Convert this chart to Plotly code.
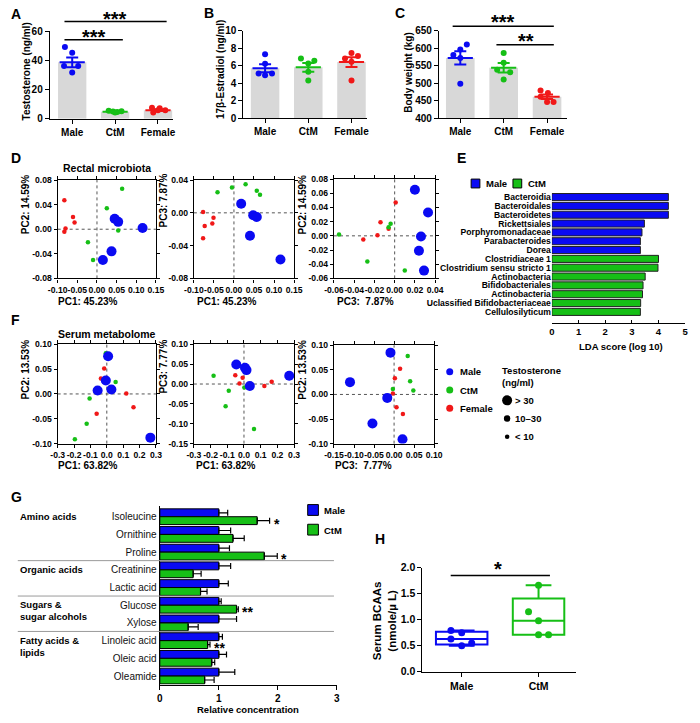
import plotly.graph_objects as go

W, H = 700, 723
FONT = "Arial, Liberation Sans, sans-serif"
BLUE = "#0A0AF2"
GREEN = "#16BF16"
RED = "#F01818"
BAR_GRAY = "#D8D8D8"

GROUPS = ["Male", "CtM", "Female"]
GROUP_COLORS = [BLUE, GREEN, RED]

# ---- A: testosterone (ng/ml)
A_MEAN = [38.7, 4.8, 5.9]
A_SEM = [3.4, 0.3, 0.6]
A_MALE = [49.2, 45.2, 36.2, 36.2, 31.7]
A_CTM = [5.5, 5.0, 4.6, 5.2, 4.3]
A_FEMALE = [7.6, 7.2, 5.8, 5.8, 4.3]

# ---- B: 17b-estradiol (ng/ml)
B_MEAN = [5.7, 5.8, 6.4]
B_SEM = [0.45, 0.5, 0.55]
B_MALE = [7.3, 6.2, 5.1, 4.9, 5.1]
B_CTM = [6.8, 6.55, 6.25, 5.3, 4.3]
B_FEMALE = [7.45, 6.8, 7.1, 6.45, 4.3]

# ---- C: body weight (kg)
C_MEAN = [572, 544, 461]
C_SEM = [19, 13.5, 6.5]
C_MALE = [610, 596, 580, 572, 498]
C_CTM = [586, 558, 538, 531, 510]
C_FEMALE = [479, 472, 461, 446, 446]

# ---- D: rectal microbiota PCA
D_MALE_PC1 = [0.045, 0.054, 0.116, 0.037, 0.015]
D_MALE_PC2 = [0.017, 0.012, 0.002, -0.036, -0.050]
D_CTM_PC1 = [0.064, 0.025, 0.054, -0.023, -0.010]
D_CTM_PC2 = [0.066, 0.034, -0.002, -0.021, -0.050]
D_FEMALE_PC1 = [-0.083, -0.061, -0.057, -0.080, -0.083]
D_FEMALE_PC2 = [0.047, 0.020, 0.011, 0.001, -0.004]

D2_MALE_PC1 = [0.018, 0.048, 0.057, 0.040, 0.116]
D2_MALE_PC3 = [0.011, -0.003, -0.005, -0.028, -0.057]
D2_CTM_PC1 = [-0.041, -0.005, 0.029, 0.057, 0.065]
D2_CTM_PC3 = [0.025, 0.031, 0.035, 0.027, 0.022]
D2_FEMALE_PC1 = [-0.077, -0.073, -0.051, -0.054, -0.077]
D2_FEMALE_PC3 = [0.001, -0.016, -0.006, -0.013, -0.031]

D3_MALE_PC3 = [0.020, 0.033, 0.026, 0.024, 0.029]
D3_MALE_PC2 = [0.065, 0.033, -0.001, -0.021, -0.049]
D3_CTM_PC3 = [-0.055, -0.004, -0.006, -0.027, 0.010]
D3_CTM_PC2 = [0.002, 0.017, 0.012, -0.036, -0.049]
D3_FEMALE_PC3 = [0.001, -0.014, -0.017, -0.006, -0.031]
D3_FEMALE_PC2 = [0.047, 0.019, 0.001, 0.010, -0.005]

# ---- E: LEfSe LDA scores
E_MALE_TAXA = ["Bacteroidia", "Bacteroidales", "Bacteroidetes", "Rickettsiales",
               "Porphyromonadaceae", "Parabacteroides", "Dorea"]
E_MALE_LDA = [4.37, 4.37, 4.37, 3.47, 3.38, 3.32, 3.32]
E_CTM_TAXA = ["Clostridiaceae 1", "Clostridium sensu stricto 1", "Actinobacteria",
              "Bifidobacteriales", "Actinobacteria", "Uclassified Bifidobacteriaceae",
              "Cellulosilyticum"]
E_CTM_LDA = [4.0, 3.98, 3.50, 3.42, 3.40, 3.33, 3.32]

# ---- F: serum metabolome PCA
F_MALE_PC1 = [0.008, -0.006, 0.028, -0.056, 0.266]
F_MALE_PC2 = [0.076, 0.027, 0.009, 0.007, -0.088]
F_CTM_PC1 = [-0.006, 0.054, -0.105, -0.123, -0.195]
F_CTM_PC2 = [0.082, 0.024, -0.009, -0.060, -0.091]
F_FEMALE_PC1 = [-0.016, -0.036, 0.119, 0.163, -0.062]
F_FEMALE_PC2 = [0.051, 0.031, 0.001, -0.027, -0.040]

F2_MALE_PC1 = [-0.046, 0.006, 0.015, 0.035, 0.271]
F2_MALE_PC3 = [0.049, 0.041, 0.035, -0.005, 0.021]
F2_CTM_PC1 = [-0.182, -0.091, -0.110, 0.002, 0.060]
F2_CTM_PC3 = [0.021, -0.017, -0.056, -0.009, -0.113]
F2_FEMALE_PC1 = [-0.052, -0.027, -0.008, 0.122, 0.166]
F2_FEMALE_PC3 = [0.022, 0.001, 0.016, -0.005, 0.006]

F3_MALE_PC3 = [-0.009, -0.110, -0.017, -0.054, 0.021]
F3_MALE_PC2 = [0.085, 0.025, -0.007, -0.059, -0.091]
F3_CTM_PC3 = [0.034, 0.040, 0.048, -0.003, -0.017]
F3_CTM_PC2 = [0.078, 0.027, 0.008, 0.011, -0.005]
F3_FEMALE_PC3 = [0.015, 0.002, -0.003, 0.006, 0.022]
F3_FEMALE_PC2 = [0.052, 0.033, 0.002, -0.026, -0.040]

TESTO_CLASSES = ["> 30", "10\u201330", "< 10"]

# ---- G: relative concentration of serum metabolites
G_CLASSES = ["Amino acids", "Organic acids", "Sugars &<br>sugar alcohols", "Fatty acids &<br>lipids"]
G_METAB = ["Isoleucine", "Ornithine", "Proline", "Creatinine", "Lactic acid",
           "Glucose", "Xylose", "Linoleic acid", "Oleic acid", "Oleamide"]
G_MALE = [1, 1, 1, 1, 1, 1, 1, 1, 1, 1]
G_MALE_ERR = [0.15, 0.20, 0.18, 0.20, 0.16, 0.04, 0.30, 0.06, 0.13, 0.27]
G_CTM = [1.65, 1.24, 1.77, 0.565, 0.69, 1.30, 0.48, 0.81, 0.88, 0.76]
G_CTM_ERR = [0.21, 0.19, 0.22, 0.135, 0.11, 0.03, 0.17, 0.04, 0.05, 0.16]
G_SIG = ["*", "", "*", "", "", "**", "", "**", "", ""]

# ---- H: serum BCAAs (nmole/uL)
H_MALE = [0.79, 0.75, 0.63, 0.50, 0.55]
H_CTM = [1.66, 1.15, 0.98, 0.71, 0.71]

# horizontal spread of the dots inside each column (category units)
JIT_A = [[-0.17, 0, -0.19, 0.14, 0], [-0.15, -0.05, 0.05, 0.15, 0], [-0.14, 0.04, 0.17, 0, -0.11]]
JIT_B = [[0, 0, -0.15, 0, 0.16], [-0.17, 0.14, 0, 0, 0], [0, -0.15, 0.15, 0, 0]]
JIT_C = [[0.15, 0, -0.16, 0, 0], [0, 0, -0.15, 0.15, 0], [-0.15, 0.02, -0.15, 0, 0.15]]
JIT_H = [[-0.14, 0, -0.14, 0, 0.13], [0, -0.13, 0, 0, 0.13]]
DOT_SIZE = {">": 10, "mid": 6.5, "<": 4.5}

fig = go.Figure()
shapes = []
annotations = []
lay = dict(width=W, height=H, autosize=False, margin=dict(l=0, r=0, t=0, b=0),
           paper_bgcolor="white", plot_bgcolor="white", showlegend=False,
           font=dict(family=FONT, color="black"), barmode="group", bargap=0.11, bargroupgap=0)


def ref(i, kind):
    return kind + ("" if i == 1 else str(i))


def px(x):
    return x / W


def py(y):
    return 1 - y / H


def bold(size):
    return dict(family=FONT, size=size, color="black", weight="bold")


def base_axis(**kw):
    d = dict(showline=True, linecolor="black", linewidth=1.3, ticks="outside", ticklen=4,
             tickwidth=1.3, tickcolor="black", showgrid=False, zeroline=False,
             tickfont=bold(10), fixedrange=True)
    d.update(kw)
    return d


def place(i, left, top, right, bottom, xa, ya):
    xa["domain"] = [px(left), px(right)]
    ya["domain"] = [py(bottom), py(top)]
    xa["anchor"] = ref(i, "y")
    ya["anchor"] = ref(i, "x")
    lay[ref(i, "x").replace("x", "xaxis")] = xa
    lay[ref(i, "y").replace("y", "yaxis")] = ya


def ptext(x, y, text, size, xanchor="center", weight="bold", **kw):
    annotations.append(dict(x=px(x), y=py(y), xref="paper", yref="paper", text=text,
                            showarrow=False, xanchor=xanchor, yanchor="middle",
                            font=dict(family=FONT, size=size, color="black", weight=weight), **kw))


def vtitle(x, y, text, size=10):
    ptext(x, y, text, size, textangle=-90)


def pline(x0, y0, x1, y1, color="black", width=1.5):
    shapes.append(dict(type="line", xref="paper", yref="paper", x0=px(x0), y0=py(y0),
                       x1=px(x1), y1=py(y1), line=dict(color=color, width=width)))


def dot_panel(i, groups, means, sems, jit):
    xr, yr = ref(i, "x"), ref(i, "y")
    fig.add_trace(go.Bar(x=[0, 1, 2], y=means, width=0.66, marker=dict(color=BAR_GRAY, line=dict(width=0)),
                         xaxis=xr, yaxis=yr))
    for k, vals in enumerate(groups):
        fig.add_trace(go.Scatter(x=[k + j for j in jit[k]], y=vals, mode="markers",
                                 marker=dict(size=6, color=GROUP_COLORS[k]), xaxis=xr, yaxis=yr))
        fig.add_trace(go.Scatter(x=[k], y=[means[k]], mode="markers",
                                 marker=dict(symbol="line-ew", size=18, color=GROUP_COLORS[k],
                                             line=dict(width=2, color=GROUP_COLORS[k])),
                                 error_y=dict(type="data", array=[sems[k]], color=GROUP_COLORS[k],
                                              thickness=2, width=6),
                                 xaxis=xr, yaxis=yr))


def pca_panel(i, series):
    xr, yr = ref(i, "x"), ref(i, "y")
    for xs, ys, color, size in series:
        fig.add_trace(go.Scatter(x=xs, y=ys, mode="markers", marker=dict(size=size, color=color),
                                 xaxis=xr, yaxis=yr))
    dot = dict(color="#555555", width=1, dash="dot")
    shapes.append(dict(type="line", xref=xr, yref=yr + " domain", x0=0, x1=0, y0=0, y1=1,
                       line=dot, layer="below"))
    shapes.append(dict(type="line", xref=xr + " domain", yref=yr, x0=0, x1=1, y0=0, y1=0,
                       line=dot, layer="below"))


def pca_axis(lo, hi, step, fmt):
    n = round((hi - lo) / step)
    vals = [round(lo + k * step, 4) + 0.0 for k in range(n + 1)]
    return base_axis(range=[lo, hi], tickvals=vals, ticktext=[format(v, fmt) for v in vals],
                     tickangle=0, mirror="ticks", ticklen=3, tickfont=bold(8.6))


cat_x = dict(tickvals=[0, 1, 2], ticktext=GROUPS, tickangle=0)

# ---------------- A
dot_panel(1, [A_MALE, A_CTM, A_FEMALE], A_MEAN, A_SEM, JIT_A)
place(1, 41, 25.7, 168, 114.7, base_axis(range=[-0.52, 2.36], **cat_x),
      base_axis(range=[0, 60], dtick=20))
vtitle(17, 67, "Testosterone (ng/ml)")
# ---------------- B
dot_panel(2, [B_MALE, B_CTM, B_FEMALE], B_MEAN, B_SEM, JIT_B)
place(2, 240, 25, 367, 114, base_axis(range=[-0.5, 2.36], **cat_x),
      base_axis(range=[0, 10], dtick=2))
vtitle(217, 65, "17\u03b2-Estradiol (ng/ml)")
# ---------------- C
dot_panel(3, [C_MALE, C_CTM, C_FEMALE], C_MEAN, C_SEM, JIT_C)
place(3, 441, 25, 573, 114, base_axis(range=[-0.49, 2.47], **cat_x),
      base_axis(range=[400, 650], dtick=50))
vtitle(410, 67, "Body weight (kg)")

SMALL = DOT_SIZE["<"]
BIG = DOT_SIZE[">"]

# ---------------- D
pca_panel(4, [(D_FEMALE_PC1, D_FEMALE_PC2, RED, SMALL), (D_CTM_PC1, D_CTM_PC2, GREEN, SMALL),
              (D_MALE_PC1, D_MALE_PC2, BLUE, BIG)])
place(4, 49, 177, 150, 277, pca_axis(-0.10, 0.15, 0.05, ".2f"), pca_axis(-0.08, 0.08, 0.04, ".2f"))
pca_panel(5, [(D2_FEMALE_PC1, D2_FEMALE_PC3, RED, SMALL), (D2_CTM_PC1, D2_CTM_PC3, GREEN, SMALL),
              (D2_MALE_PC1, D2_MALE_PC3, BLUE, BIG)])
place(5, 189, 177, 292, 277, pca_axis(-0.10, 0.15, 0.05, ".2f"), pca_axis(-0.08, 0.04, 0.04, ".2f"))
pca_panel(6, [(D3_FEMALE_PC3, D3_FEMALE_PC2, RED, SMALL), (D3_CTM_PC3, D3_CTM_PC2, GREEN, SMALL),
              (D3_MALE_PC3, D3_MALE_PC2, BLUE, BIG)])
place(6, 333, 176, 437, 277, pca_axis(-0.06, 0.04, 0.02, ".2f"), pca_axis(-0.06, 0.08, 0.02, ".2f"))
vtitle(16, 202, "PC2: 14.59%")
vtitle(158, 198, "PC3: 7.87%")
vtitle(301, 202, "PC2: 14.59%")
ptext(80, 300, "PC1: 45.23%", 10)
ptext(223, 300, "PC1: 45.23%", 10)
ptext(365, 300, "PC3: \u00a07.87%", 10)

# ---------------- E
n_male = len(E_MALE_TAXA)
e_male_pos = list(range(n_male))
e_ctm_pos = list(range(n_male, n_male + len(E_CTM_TAXA)))
fig.add_trace(go.Bar(x=E_MALE_LDA, y=e_male_pos, orientation="h", width=0.8, offset=-0.4,
                     marker=dict(color=BLUE, line=dict(color="#222222", width=1)), xaxis="x7", yaxis="y7"))
fig.add_trace(go.Bar(x=E_CTM_LDA, y=e_ctm_pos, orientation="h", width=0.8, offset=-0.4,
                     marker=dict(color=GREEN, line=dict(color="#222222", width=1)), xaxis="x7", yaxis="y7"))
place(7, 557, 189.8, 694, 322,
      base_axis(range=[0, 5], dtick=1, ticks="inside", ticklen=3, tickfont=bold(9.5)),
      base_axis(range=[14.22, -0.5], showline=False, ticks="", tickvals=e_male_pos + e_ctm_pos,
                ticktext=E_MALE_TAXA + E_CTM_TAXA, tickfont=bold(8.6)))
ptext(628, 346, "LDA score (log 10)", 9.5)

# ---------------- F
pca_panel(8, [(F_FEMALE_PC1, F_FEMALE_PC2, RED, SMALL), (F_CTM_PC1, F_CTM_PC2, GREEN, SMALL),
              (F_MALE_PC1, F_MALE_PC2, BLUE, BIG)])
place(8, 49, 344, 150, 445, pca_axis(-0.3, 0.3, 0.1, ".1f"), pca_axis(-0.10, 0.10, 0.05, ".2f"))
pca_panel(9, [(F2_FEMALE_PC1, F2_FEMALE_PC3, RED, SMALL), (F2_CTM_PC1, F2_CTM_PC3, GREEN, SMALL),
              (F2_MALE_PC1, F2_MALE_PC3, BLUE, BIG)])
place(9, 189, 344, 292, 445, pca_axis(-0.3, 0.3, 0.1, ".1f"), pca_axis(-0.15, 0.10, 0.05, ".2f"))
pca_panel(10, [(F3_FEMALE_PC3, F3_FEMALE_PC2, RED, SMALL), (F3_CTM_PC3, F3_CTM_PC2, GREEN, SMALL),
               (F3_MALE_PC3, F3_MALE_PC2, BLUE, BIG)])
place(10, 333, 345, 436, 445, pca_axis(-0.15, 0.10, 0.05, ".2f"), pca_axis(-0.10, 0.10, 0.05, ".2f"))
vtitle(16, 370, "PC2: 13.53%")
vtitle(158, 367, "PC3: 7.77%")
vtitle(301, 370, "PC2: 13.53%")
ptext(80, 467, "PC1: 63.82%", 10)
ptext(222, 467, "PC1: 63.82%", 10)
ptext(363, 467, "PC3: \u00a07.77%", 10)

# ---------------- G
g_pos = list(range(len(G_METAB)))
for vals, errs, color in [(G_MALE, G_MALE_ERR, BLUE), (G_CTM, G_CTM_ERR, GREEN)]:
    fig.add_trace(go.Bar(x=vals, y=g_pos, orientation="h",
                         marker=dict(color=color, line=dict(color="black", width=1)),
                         error_x=dict(type="data", symmetric=False, array=errs, arrayminus=[0] * len(g_pos),
                                      color="black", thickness=1.2, width=3),
                         xaxis="x11", yaxis="y11"))
place(11, 154, 508, 336, 690,
      base_axis(range=[0, 3], dtick=1, tickfont=bold(10)),
      base_axis(range=[9.48, -0.63], ticks="", tickvals=g_pos, ticktext=G_METAB,
                tickfont=dict(family=FONT, size=10, color="#111111")))
ptext(245, 715, "Relative concentration", 9.5)
for k, sig in enumerate(G_SIG):
    if sig:
        annotations.append(dict(x=G_CTM[k] + G_CTM_ERR[k], y=k + 0.22, xref="x11", yref="y11", text=sig,
                                showarrow=False, xanchor="left", yanchor="middle", xshift=2, yshift=-3,
                                font=bold(14)))

# ---------------- H
for k, (vals, color) in enumerate([(H_MALE, BLUE), (H_CTM, GREEN)]):
    fig.add_trace(go.Box(y=vals, x0=k, width=0.67, boxpoints=False, whiskerwidth=0.5, fillcolor="white",
                         line=dict(color=color, width=2), quartilemethod="exclusive",
                         xaxis="x12", yaxis="y12"))
for k, vals in enumerate([H_MALE, H_CTM]):
    fig.add_trace(go.Scatter(x=[k + j for j in JIT_H[k]], y=vals, mode="markers",
                             marker=dict(size=7, color=GROUP_COLORS[k]), xaxis="x12", yaxis="y12"))
place(12, 424, 571, 582, 677,
      base_axis(range=[-0.51, 1.49], tickvals=[0, 1], ticktext=GROUPS[:2], tickfont=bold(10.5)),
      base_axis(range=[0, 2.0], dtick=0.5, tickformat=".1f", tickfont=bold(10.5)))
vtitle(385, 625, "Serum BCAAs<br>(nmole/\u00b5 L)", 11.5)

# ---------------- significance marks
pline(56, 15.7, 161, 15.7)
pline(56, 34.3, 116, 34.3)
ptext(108, 13, "***", 20)
ptext(86, 31.5, "***", 20)
pline(455, 20.7, 559, 20.7)
pline(500, 39.3, 559, 39.3)
ptext(507, 16.5, "***", 20)
ptext(530, 36, "**", 20)
pline(453, 579, 555, 579)
ptext(502, 573, "*", 20)

# ---------------- panel letters and titles
for letter, x, y in [("A", -1, 8), ("B", 197, 7), ("C", 394, 7), ("D", -1, 155), ("E", 457, 155),
                     ("F", -1, 319), ("G", -1, 499), ("H", 373, 542)]:
    ptext(x, y, letter, 14, xanchor="left")
ptext(100, 165, "Rectal microbiota", 10.5)
ptext(100, 334, "Serum metabolome", 10.5)


# ---------------- hand-built legends
def square(x0, y0, x1, y1, color):
    shapes.append(dict(type="rect", xref="paper", yref="paper", x0=px(x0), y0=py(y1), x1=px(x1), y1=py(y0),
                       fillcolor=color, line=dict(color="black", width=1)))


def circle(x, y, d, color):
    r = d / 2
    shapes.append(dict(type="circle", xref="paper", yref="paper", xsizemode="pixel", ysizemode="pixel",
                       xanchor=px(x), yanchor=py(y), x0=-r, x1=r, y0=-r, y1=r,
                       fillcolor=color, line=dict(width=0)))


square(474, 176, 483, 185, BLUE)
ptext(487, 180, "Male", 9.5, xanchor="left")
square(517, 176, 526, 185, GREEN)
ptext(530, 180, "CtM", 9.5, xanchor="left")

square(306, 507, 317, 518, BLUE)
ptext(321, 513, "Male", 9.5, xanchor="left")
square(306, 527, 317, 538, GREEN)
ptext(321, 533, "CtM", 9.5, xanchor="left")

for k, (name, color) in enumerate(zip(GROUPS, GROUP_COLORS)):
    circle(452, 372 + 18.5 * k, 7, color)
    ptext(461, 372 + 18.5 * k, name, 9.5, xanchor="left")
ptext(504, 377, "Testosterone<br>(ng/ml)", 9.5, xanchor="left", align="left")
for k, (name, d) in enumerate(zip(TESTO_CLASSES, [DOT_SIZE[">"], DOT_SIZE["mid"], DOT_SIZE["<"]])):
    circle(511, 401 + 18.5 * k, d, "black")
    ptext(517, 401 + 18.5 * k, name, 9.5, xanchor="left")

# ---------------- G group labels and separators
for name, y in zip(G_CLASSES, [519, 573, 615, 651]):
    ptext(8, y, name, 9.5, xanchor="left", align="left")
for y in [564, 600, 636]:
    pline(8, y, 333, y, color="#9A9A9A", width=1)

lay["shapes"] = shapes
lay["annotations"] = annotations
fig.update_layout(**lay)
fig.write_html("out.html", config={"displayModeBar": False},
               post_script="document.body.style.margin='0';")
